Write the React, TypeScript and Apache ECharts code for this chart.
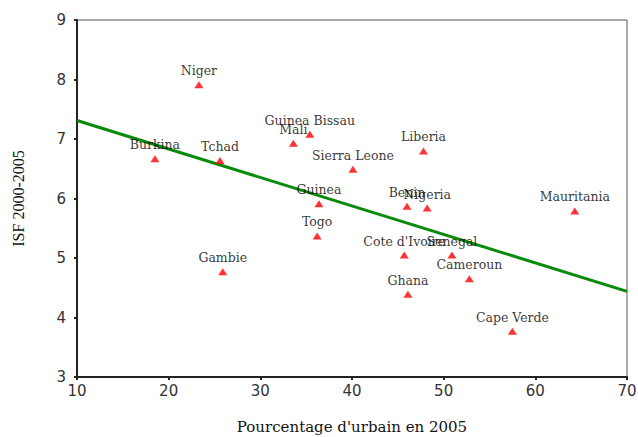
import React, { useEffect, useRef } from "react";
import * as echarts from "echarts";

const countries = [
  "Niger", "Burkina", "Tchad", "Mali", "Guinea Bissau", "Liberia", "Sierra Leone",
  "Guinea", "Benin", "Nigeria", "Mauritania", "Togo", "Gambie", "Cote d'Ivoire",
  "Senegal", "Cameroun", "Ghana", "Cape Verde",
];
const urbanPct = [23.3, 18.5, 25.6, 33.6, 35.4, 47.8, 40.1, 36.4, 46.0, 48.2, 64.3, 36.2, 25.9, 45.7, 50.9, 52.8, 46.1, 57.5];
const isf = [7.91, 6.67, 6.64, 6.93, 7.08, 6.80, 6.49, 5.91, 5.87, 5.84, 5.79, 5.37, 4.77, 5.05, 5.05, 4.65, 4.39, 3.77];
const fitX = [10, 70];
const fitY = [7.31, 4.44];

export default function App() {
  const ref = useRef<HTMLDivElement>(null);
  useEffect(() => {
    document.body.style.margin = "0";
    const chart = echarts.init(ref.current!, null, { renderer: "svg" });
    const serif = "DejaVu Serif";
    chart.setOption({
      animation: false,
      backgroundColor: "#ffffff",
      grid: {
        left: 77, top: 20, right: 11, bottom: 60,
        outerBoundsMode: "none",
        containLabel: false,
        show: true, borderColor: "#555", borderWidth: 1,
      },
      xAxis: {
        type: "value", min: 10, max: 70, interval: 10,
        name: "Pourcentage d'urbain en 2005",
        nameLocation: "middle", nameGap: 42,
        nameTextStyle: { fontFamily: serif, fontSize: 15, color: "#111" },
        axisLine: { lineStyle: { color: "#222", width: 2 } },
        axisTick: { show: true, length: 3, lineStyle: { color: "#222", width: 2 } },
        axisLabel: { fontFamily: "DejaVu Sans", fontSize: 15, color: "#333", margin: 6 },
        splitLine: { show: false },
      },
      yAxis: {
        type: "value", min: 3, max: 9, interval: 1,
        name: "ISF 2000-2005",
        nameLocation: "middle", nameGap: 51,
        nameTextStyle: { fontFamily: "Liberation Serif", fontSize: 16, color: "#111" },
        axisLine: { lineStyle: { color: "#222", width: 2 } },
        axisTick: { show: true, length: 3, lineStyle: { color: "#222", width: 2 } },
        axisLabel: { fontFamily: "DejaVu Sans", fontSize: 15, color: "#333", margin: 11 },
        splitLine: { show: false },
      },
      series: [
        {
          type: "line",
          data: fitX.map((x, i) => [x, fitY[i]]),
          symbol: "none",
          lineStyle: { color: "#0a8a0a", width: 3 },
          z: 1,
        },
        {
          type: "scatter",
          data: countries.map((c, i) => ({ name: c, value: [urbanPct[i], isf[i]] })),
          symbol: "triangle",
          symbolSize: [9, 7],
          itemStyle: { color: "#ff0000" },
          label: {
            show: true,
            position: "top",
            distance: 4,
            formatter: "{b}",
            fontFamily: serif,
            fontSize: 12.5,
            color: "#000",
          },
          z: 2,
        },
      ],
    });
    return () => chart.dispose();
  }, []);
  return <div ref={ref} style={{ width: 638, height: 437 }} />;
}
